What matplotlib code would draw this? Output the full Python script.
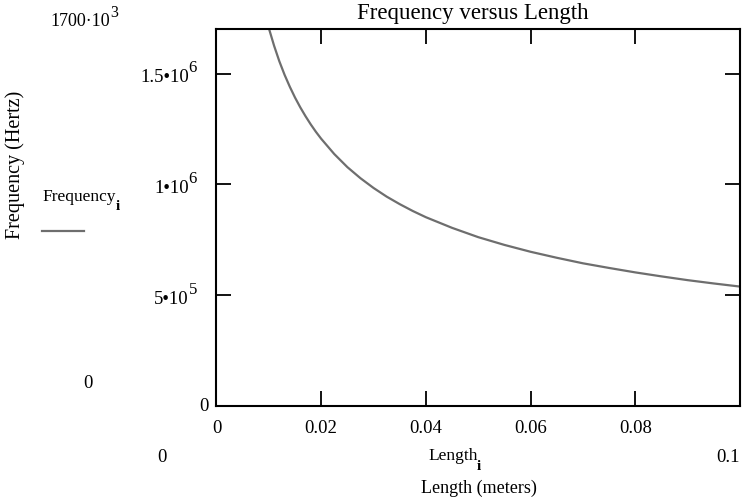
import matplotlib
matplotlib.use("Agg")
import matplotlib.pyplot as plt

# values
length = [0.009, 0.010, 0.011, 0.012, 0.013, 0.014, 0.015, 0.016, 0.017,
          0.018, 0.019, 0.020, 0.0225, 0.025, 0.0275, 0.030, 0.0325, 0.035,
          0.0375, 0.040, 0.045, 0.050, 0.055, 0.060, 0.065, 0.070, 0.075,
          0.080, 0.085, 0.090, 0.095, 0.100]
frequency = [1.797e6, 1.705e6, 1.626e6, 1.556e6, 1.495e6, 1.441e6, 1.392e6,
             1.348e6, 1.308e6, 1.271e6, 1.237e6, 1.206e6, 1.137e6, 1.078e6,
             1.028e6, 0.984e6, 0.945e6, 0.911e6, 0.880e6, 0.852e6, 0.804e6,
             0.762e6, 0.727e6, 0.696e6, 0.669e6, 0.644e6, 0.623e6, 0.603e6,
             0.585e6, 0.568e6, 0.553e6, 0.539e6]

xticks = [0, 0.02, 0.04, 0.06, 0.08]
xtick_labels = ["0", "0.02", "0.04", "0.06", "0.08"]
yticks = [0, 5e5, 1e6, 1.5e6]
ytick_base = ["0", "5\u202210", "1\u202210", "1.5\u202210"]
ytick_exp = ["", "5", "6", "6"]

plt.rcParams["font.family"] = "Liberation Serif"

fig = plt.figure(figsize=(7.53, 5.04), dpi=100)
ax = fig.add_axes([0.2875, 0.1944, 0.6952, 0.7475])

ax.plot(length, frequency, color="#6e6e6e", lw=1.6)
ax.set_xlim(0, 0.1)
ax.set_ylim(0, 1.7e6)

ax.set_xticks(xticks)
ax.set_xticklabels(xtick_labels, fontsize=13.5)
ax.set_yticks(yticks)
ax.set_yticklabels([""] * len(yticks))
ax.tick_params(direction="in", length=11, width=1.3, top=True, right=True)
ax.tick_params(axis="x", pad=10)
for s in ax.spines.values():
    s.set_linewidth(1.5)

# y tick labels, Mathcad style with full size exponents
for y, base, ex in zip(yticks, ytick_base, ytick_exp):
    if ex:
        ax.annotate(base, xy=(0, y), xycoords=("axes fraction", "data"),
                    xytext=(-20, -3), textcoords="offset points",
                    ha="right", va="center", fontsize=13.5)
        ax.annotate(ex, xy=(0, y), xycoords=("axes fraction", "data"),
                    xytext=(-20, 4), textcoords="offset points",
                    ha="left", va="center", fontsize=12)
    else:
        ax.annotate(base, xy=(0, y), xycoords=("axes fraction", "data"),
                    xytext=(-6, 0), textcoords="offset points",
                    ha="right", va="center", fontsize=13.5)

fig.text(473 / 753, 1 - 13 / 504, "Frequency versus Length", fontsize=16.5,
         ha="center", va="center")

# Mathcad style extra labels
fig.text(110 / 753, 1 - 22 / 504, "1700\u00b710", fontsize=13,
         ha="right", va="center")
fig.text(110 / 753, 1 - 13 / 504, "3", fontsize=11.5, ha="left", va="center")
fig.text(88 / 753, 1 - 383 / 504, "0", fontsize=13.5, ha="center", va="center")
fig.text(162 / 753, 1 - 457 / 504, "0", fontsize=13.5, ha="center", va="center")
fig.text(428 / 753, 1 - 456 / 504, "Length", fontsize=12.5,
         ha="left", va="center")
fig.text(479 / 753, 1 - 467 / 504, "i", fontsize=11, fontweight="bold",
         ha="center", va="center")
fig.text(740 / 753, 1 - 457 / 504, "0.1", fontsize=13.5, ha="right", va="center")
fig.text(479 / 753, 1 - 488 / 504, "Length (meters)", fontsize=13,
         ha="center", va="center")
fig.text(15 / 753, 1 - 165 / 504, "Frequency (Hertz)", fontsize=14.5,
         rotation=90, ha="center", va="center")
fig.text(42 / 753, 1 - 197 / 504, "Frequency", fontsize=12.5,
         ha="left", va="center")
fig.text(118 / 753, 1 - 206 / 504, "i", fontsize=11, fontweight="bold",
         ha="center", va="center")
fig.add_artist(plt.Line2D([42 / 753, 84 / 753], [1 - 231 / 504, 1 - 231 / 504],
                          color="#6e6e6e", lw=1.6))

fig.savefig("out.png", dpi=100)
